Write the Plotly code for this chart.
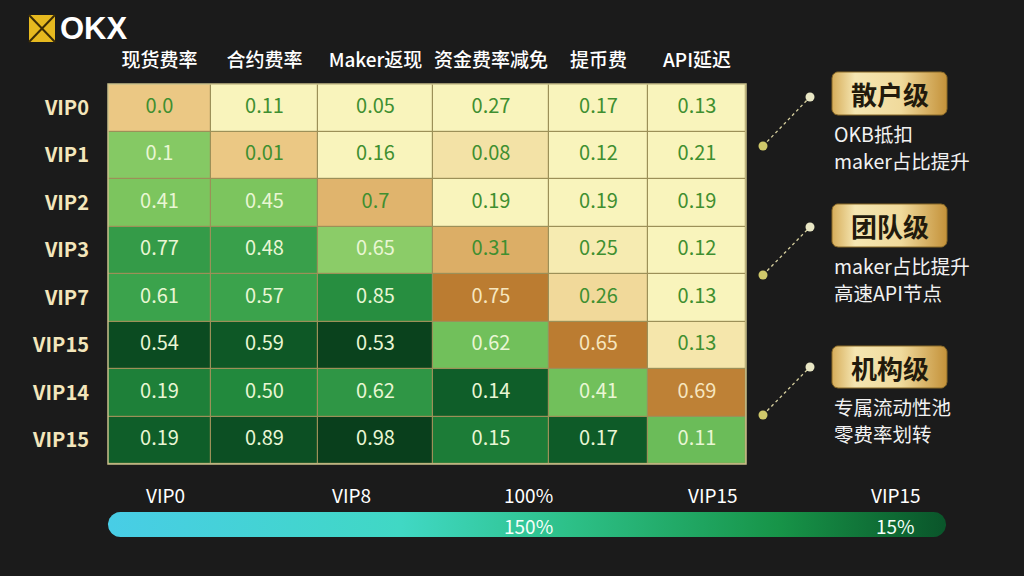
import numpy as np
import plotly.graph_objects as go

# ---------------- data ----------------
columns = ["现货费率", "合约费率", "Maker返现", "资金费率减免", "提币费", "API延迟"]
tiers = ["VIP0", "VIP1", "VIP2", "VIP3", "VIP7", "VIP15", "VIP14", "VIP15"]
value_labels = [
    ["0.0", "0.11", "0.05", "0.27", "0.17", "0.13"],
    ["0.1", "0.01", "0.16", "0.08", "0.12", "0.21"],
    ["0.41", "0.45", "0.7", "0.19", "0.19", "0.19"],
    ["0.77", "0.48", "0.65", "0.31", "0.25", "0.12"],
    ["0.61", "0.57", "0.85", "0.75", "0.26", "0.13"],
    ["0.54", "0.59", "0.53", "0.62", "0.65", "0.13"],
    ["0.19", "0.50", "0.62", "0.14", "0.41", "0.69"],
    ["0.19", "0.89", "0.98", "0.15", "0.17", "0.11"],
]
# colour tone of each cell (-3 = deep amber ... 0 = pale cream ... 5 = deep green)
tone = [
    [-1.0, 0.0, 0.0, 0.0, 0.0, 0.0],
    [0.95, -1.0, 0.0, -0.4, 0.0, 0.0],
    [1.05, 1.05, -1.6, 0.0, 0.0, 0.0],
    [2.3, 2.1, 0.9, -1.8, -0.2, 0.0],
    [2.0, 2.0, 2.8, -2.9, -0.6, 0.0],
    [4.6, 4.2, 4.9, 1.2, -2.9, -0.3],
    [3.2, 3.0, 2.5, 4.0, 1.2, -2.8],
    [4.0, 4.5, 5.0, 3.3, 4.1, 1.3],
]
tier_groups = ["散户级", "团队级", "机构级"]
tier_notes = [["OKB抵扣", "maker占比提升"], ["maker占比提升", "高速API节点"], ["专属流动性池", "零费率划转"]]
bar_top_labels = ["VIP0", "VIP8", "100%", "VIP15", "VIP15"]
bar_inner_labels = ["150%", "15%"]

# ---------------- layout constants ----------------
W, H = 1024, 576
FONT = "Noto Sans CJK SC"
col_widths = [103, 107, 115, 116, 99, 98]
x_edges = np.concatenate([[0], np.cumsum(col_widths)])
x_centers = (x_edges[:-1] + x_edges[1:]) / 2
n_rows = len(tiers)
y_edges = np.arange(n_rows + 1)
y_centers = y_edges[:-1] + 0.5

grid_left, grid_right, grid_top, grid_bottom = 108, 746, 84, 464

tone_scale = [
    [0.0, "#b8772c"],
    [0.125, "#d8a75e"],
    [0.25, "#ebc884"],
    [0.3125, "#f2dda0"],
    [0.375, "#f9f4bc"],
    [0.5, "#7fc75f"],
    [0.625, "#3ba34c"],
    [0.75, "#22893d"],
    [0.875, "#0f5e29"],
    [1.0, "#093f1c"],
]

fig = go.Figure()

fig.add_trace(go.Heatmap(
    z=tone, x=x_edges, y=y_edges, zmin=-3, zmax=5,
    colorscale=tone_scale, showscale=False, xgap=1.2, ygap=1.2,
    hoverinfo="skip", xaxis="x", yaxis="y",
))

tx, ty, tt, tc = [], [], [], []
for r in range(n_rows):
    for c in range(len(columns)):
        tx.append(x_centers[c]); ty.append(y_centers[r]); tt.append(value_labels[r][c])
        t = tone[r][c]
        if t <= -2.5:
            tc.append("#f6e6bf")
        elif t >= 0.8:
            tc.append("#e9f6d4")
        else:
            tc.append("#3f8f30")
fig.add_trace(go.Scatter(
    x=tx, y=ty, text=tt, mode="text", textfont=dict(color=tc, size=20, family=FONT),
    hoverinfo="skip", showlegend=False, xaxis="x", yaxis="y",
))

# ---------- decorations on pixel overlay axes ----------
def rounded_rect(x0, y0, x1, y1, r, n=10):
    pts = []
    corners = [(x1 - r, y0 + r, -90, 0), (x1 - r, y1 - r, 0, 90),
               (x0 + r, y1 - r, 90, 180), (x0 + r, y0 + r, 180, 270)]
    for cx, cy, a0, a1 in corners:
        for a in np.linspace(np.radians(a0), np.radians(a1), n):
            pts.append((cx + r * np.cos(a), cy + r * np.sin(a)))
    pts.append(pts[0])
    return [p[0] for p in pts], [p[1] for p in pts]

gold = [[0, "#d6ad5a"], [0.2, "#f5e6b2"], [0.6, "#f0da9c"], [1, "#c4923a"]]
box_y = [(72, 115), (204, 247), (346, 388)]
for (y0, y1), label in zip(box_y, tier_groups):
    bx, by = rounded_rect(832, y0, 947, y1, 6)
    fig.add_trace(go.Scatter(
        x=bx, y=by, mode="lines", fill="toself", line=dict(width=1, color="#8a6a28"),
        fillgradient=dict(type="horizontal", colorscale=gold),
        hoverinfo="skip", showlegend=False, xaxis="x2", yaxis="y2",
    ))

px, py = rounded_rect(108, 512, 946, 537, 12.5, n=16)
fig.add_trace(go.Scatter(
    x=px, y=py, mode="lines", fill="toself", line=dict(width=0),
    fillgradient=dict(type="horizontal", colorscale=[
        [0, "#48cde6"], [0.35, "#40d8c4"], [0.55, "#2dc088"], [0.8, "#179448"], [1, "#0a552a"]]),
    hoverinfo="skip", showlegend=False, xaxis="x2", yaxis="y2",
))

shapes = []
annotations = []

def P(x, y):
    return x / W, 1 - y / H

def text_at(xpx, ypx, text, size, color, family=FONT, xanchor="center", weight=None):
    x, y = P(xpx, ypx)
    f = dict(family=family, size=size, color=color)
    if weight:
        f["weight"] = weight
    annotations.append(dict(xref="paper", yref="paper", x=x, y=y, text=text, showarrow=False,
                            xanchor=xanchor, yanchor="middle", font=f))

# grid frame and gap colour
shapes.append(dict(type="rect", xref="x domain", yref="y domain", x0=0, x1=1, y0=0, y1=1,
                   fillcolor="#9c9058", line=dict(width=0), layer="below"))
shapes.append(dict(type="rect", xref="x domain", yref="y domain", x0=0, x1=1, y0=0, y1=1,
                   line=dict(width=1.5, color="#c9c08a")))

# logo
lx0, ly0 = P(29, 15)
lx1, ly1 = P(55, 42)
shapes.append(dict(type="rect", xref="paper", yref="paper", x0=lx0, x1=lx1, y0=ly1, y1=ly0,
                   fillcolor="#e6b91f", line=dict(width=0)))
shapes.append(dict(type="line", xref="paper", yref="paper", x0=lx0, y0=ly0, x1=lx1, y1=ly1,
                   line=dict(color="#3b2c06", width=2)))
shapes.append(dict(type="line", xref="paper", yref="paper", x0=lx0, y0=ly1, x1=lx1, y1=ly0,
                   line=dict(color="#3b2c06", width=2)))
text_at(58, 29, "<b>OKX</b>", 31, "#ffffff", family="Liberation Sans", xanchor="left")

# right side connectors, labels, notes
connectors = [((763, 146), (810, 97)), ((763, 275), (810, 227)), ((763, 415), (810, 367))]
for i, ((xa, ya), (xb, yb)) in enumerate(connectors):
    x0, y0 = P(xa, ya)
    x1, y1 = P(xb, yb)
    shapes.append(dict(type="line", xref="paper", yref="paper", x0=x0, y0=y0, x1=x1, y1=y1,
                       line=dict(color="#d6cf9e", width=1.3, dash="dot")))
    for (cx, cy), col in [((xa, ya), "#cfc86a"), ((xb, yb), "#e8e6c4")]:
        a0, b0 = P(cx - 4.5, cy - 4.5)
        a1, b1 = P(cx + 4.5, cy + 4.5)
        shapes.append(dict(type="circle", xref="paper", yref="paper", x0=a0, x1=a1, y0=b1, y1=b0,
                           fillcolor=col, line=dict(width=0)))

for (y0, y1), label, notes in zip(box_y, tier_groups, tier_notes):
    text_at(889.5, (y0 + y1) / 2, "<b>" + label + "</b>", 26, "#221a0c")
    for k, note in enumerate(notes):
        text_at(832, y1 + 18 + 27 * k, note, 19.5, "#f2f2f2", xanchor="left")

# bottom bar labels
for lab, xpx in zip(bar_top_labels, [165, 351, 528, 713, 896]):
    text_at(xpx, 494, lab, 19, "#ffffff")
for lab, xpx in zip(bar_inner_labels, [528, 895]):
    text_at(xpx, 525, lab, 19, "#f4fff8")

fig.update_layout(
    width=W, height=H, margin=dict(l=0, r=0, t=0, b=0, autoexpand=False),
    paper_bgcolor="#1b1b1b", plot_bgcolor="rgba(0,0,0,0)",
    showlegend=False, shapes=shapes, annotations=annotations,
    xaxis=dict(domain=[grid_left / W, grid_right / W], range=[0, x_edges[-1]], automargin=False,
               side="top", tickvals=x_centers, ticktext=columns, ticks="outside",
               ticklen=8, tickcolor="rgba(0,0,0,0)", showgrid=False, zeroline=False,
               showline=False, fixedrange=True,
               tickfont=dict(family=FONT, size=19, color="#ffffff", weight=500)),
    yaxis=dict(domain=[1 - grid_bottom / H, 1 - grid_top / H], range=[n_rows, 0], automargin=False,
               tickvals=y_centers, ticktext=tiers, ticks="outside", ticklen=14,
               tickcolor="rgba(0,0,0,0)", showgrid=False, zeroline=False, showline=False,
               fixedrange=True, tickfont=dict(family=FONT, size=20, color="#f3e6bb", weight=600)),
    xaxis2=dict(domain=[0, 1], range=[0, W], anchor="y2", visible=False, fixedrange=True, automargin=False),
    yaxis2=dict(domain=[0, 1], range=[H, 0], anchor="x2", visible=False, fixedrange=True, automargin=False),
)

fig.write_html("out.html")
